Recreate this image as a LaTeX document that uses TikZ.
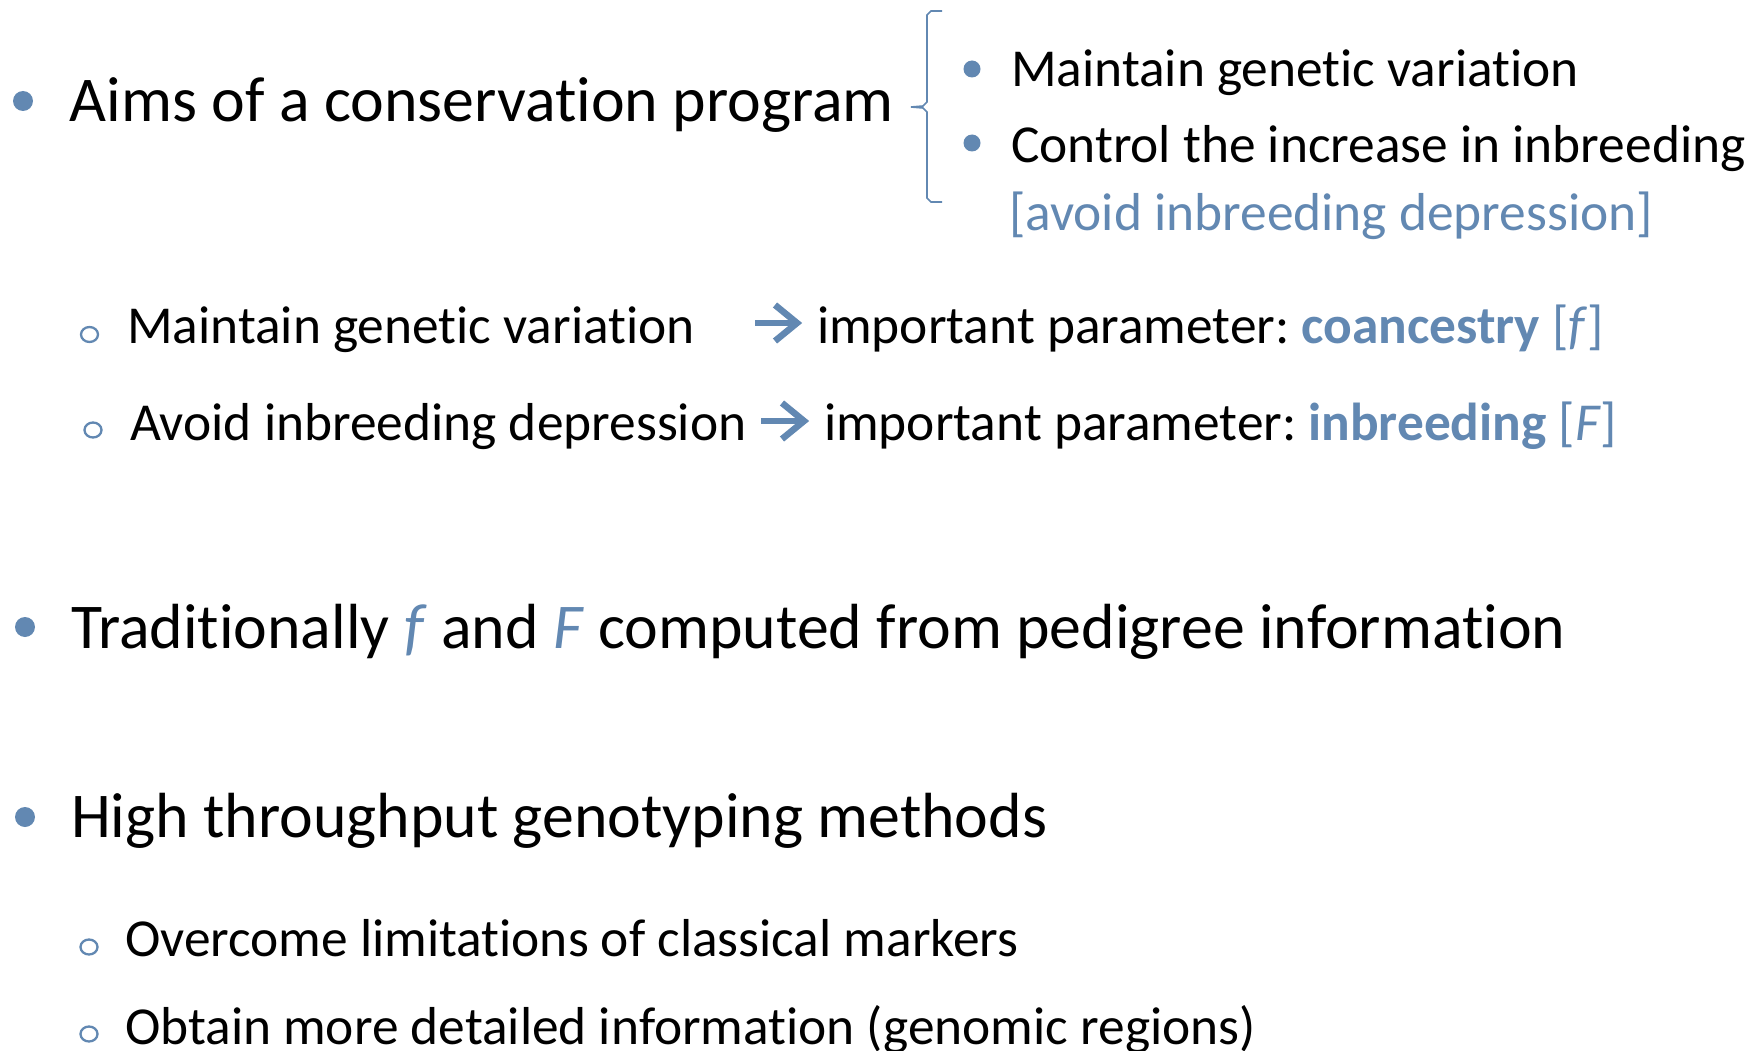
\documentclass[tikz,border=0pt]{standalone}
\usepackage{fontspec}
\setmainfont{Carlito}[Ligatures=NoCommon]
\definecolor{acc}{RGB}{98,136,178}
\usetikzlibrary{shapes.geometric}
\tikzset{
 txt/.style={anchor=base west, inner sep=0pt, outer sep=0pt},
 big/.style={txt, font=\fontsize{63.8}{70}\selectfont},
 small/.style={txt, font=\fontsize{53.4}{60}\selectfont},
 dotA/.style={circle, fill=acc, inner sep=0pt, minimum size=20pt},
 dotB/.style={circle, fill=acc, inner sep=0pt, minimum size=17pt},
 ring/.style={ellipse, draw=acc, line width=2.3pt, inner sep=0pt, minimum width=17pt, minimum height=15pt},
 arrline/.style={draw=acc, line width=6.5pt, line join=miter},
 bracestyle/.style={draw=acc, line width=1.6pt}
}
\begin{document}
\begin{tikzpicture}[x=1pt,y=-1pt]
\path[use as bounding box, fill=white] (0,0) rectangle (1762,1051);
% bullets
\node[dotA] (b1) at (23,101) {};
\node[dotA] (b2) at (25,627) {};
\node[dotA] (b3) at (25,817) {};
\node[dotB] (s1) at (972,69) {};
\node[dotB] (s2) at (972,143) {};
\node[ring] (r1) at (89.5,334.5) {};
\node[ring] (r2) at (93,430) {};
\node[ring] (r3) at (89,947) {};
\node[ring] (r4) at (89,1034) {};
% texts
\node[big] (t1) at (69.7,121.4) {Aims of a conservation program};
\node[small] (t1a) at (1011,86.5) {Maintain genetic variation};
\node[small] (t1b) at (1011,163) {Control the increase in inbreeding};
\node[small, text=acc] (t1c) at (1009,231) {[avoid inbreeding depression]};
\node[small] (t2) at (127,343) {Maintain genetic variation};
\node[small] (t2b) at (817,343) {important parameter:\hspace{0.22em}{\bfseries\color{acc}coancestry} {\color{acc}[\textit{f}]}};
\node[small] (t3) at (130,440) {Avoid inbreeding depression};
\node[small] (t3b) at (824,440) {important parameter:\hspace{0.22em}{\bfseries\color{acc}inbreeding} {\color{acc}[\textit{F}]}};
\node[big] (t4) at (71,648) {Traditionally {\color{acc}\textit{f}} and {\color{acc}\textit{F}} computed from pedigree information};
\node[big] (t5) at (71,837) {High throughput genotyping methods};
\node[small] (t6) at (125,956) {Overcome limitations of classical markers};
\node[small] (t7) at (125,1044) {Obtain more detailed information (genomic regions)};
% brace
\coordinate (brT) at (942,11);
\coordinate (brB) at (942,202);
\coordinate (brM) at (911,107);
\draw[bracestyle] (brT) -- (931,11) -- (927,15) -- (927,102) -- (923,106) -- (brM);
\draw[bracestyle] (brB) -- (931,202) -- (927,198) -- (927,112) -- (923,108) -- (brM);
% arrows
\coordinate (a1s) at (755,323);
\coordinate (a1e) at (797,323);
\draw[arrline] (a1s) -- ([shift={(-4,0)}]a1e);
\draw[arrline] ([shift={(-22,-18)}]a1e) -- (a1e) -- ([shift={(-22,18)}]a1e);
\coordinate (a2s) at (761,421);
\coordinate (a2e) at (804,421);
\draw[arrline] (a2s) -- ([shift={(-4,0)}]a2e);
\draw[arrline] ([shift={(-22,-18)}]a2e) -- (a2e) -- ([shift={(-22,18)}]a2e);
\end{tikzpicture}
\end{document}
